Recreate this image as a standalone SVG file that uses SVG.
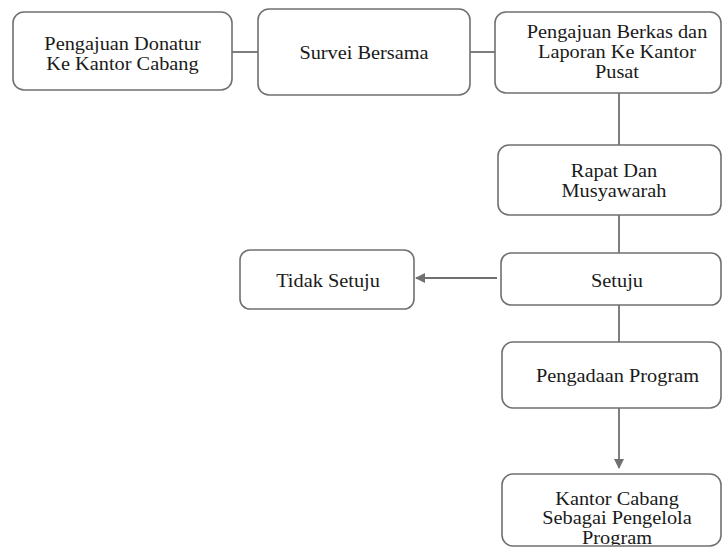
<svg xmlns="http://www.w3.org/2000/svg" width="723" height="548" viewBox="0 0 723 548">
<style>
.box{fill:#fff;stroke:#707070;stroke-width:1.6}
.ln{stroke:#707070;stroke-width:1.8;fill:none}
.t{font-family:'Liberation Serif','DejaVu Serif',serif;font-size:18px;fill:#1a1a1a;text-anchor:middle}
</style>
<defs>
<marker id="ah" viewBox="0 0 10 10" refX="9" refY="5" markerWidth="10" markerHeight="10" markerUnits="userSpaceOnUse" orient="auto"><path d="M0,0 L10,5 L0,10 Z" fill="#707070"/></marker>
<clipPath id="c7"><rect x="502" y="474" width="219" height="71"/></clipPath>
</defs>
<rect width="723" height="548" fill="#fff"/>
<g id="connectors">
<line class="ln" x1="232" y1="52" x2="258" y2="52"/>
<line class="ln" x1="470" y1="52" x2="495" y2="52"/>
<line class="ln" x1="619" y1="93" x2="619" y2="145"/>
<line class="ln" x1="619" y1="215" x2="619" y2="253"/>
<line class="ln" x1="619" y1="305" x2="619" y2="342"/>
<line class="ln" x1="497" y1="278" x2="416" y2="278" marker-end="url(#ah)"/>
<line class="ln" x1="619" y1="408" x2="619" y2="468" marker-end="url(#ah)"/>
</g>
<g font-family="Liberation Serif, serif">
<g id="n1"><rect class="box" x="13" y="12" width="219" height="78" rx="11"/>
<text class="t" transform="matrix(1.13 0 0 1 122.5 50)">Pengajuan Donatur</text>
<text class="t" transform="matrix(1.13 0 0 1 122.5 70)">Ke Kantor Cabang</text></g>
<g id="n2"><rect class="box" x="258" y="9" width="212" height="86" rx="11"/>
<text class="t" transform="matrix(1.13 0 0 1 364 59)">Survei Bersama</text></g>
<g id="n3"><rect class="box" x="495" y="12" width="226" height="81" rx="11"/>
<text class="t" transform="matrix(1.13 0 0 1 617 38)">Pengajuan Berkas dan</text>
<text class="t" transform="matrix(1.13 0 0 1 617 58)">Laporan Ke Kantor</text>
<text class="t" transform="matrix(1.13 0 0 1 617 78)">Pusat</text></g>
<g id="n4"><rect class="box" x="498" y="145" width="223" height="70" rx="11"/>
<text class="t" transform="matrix(1.13 0 0 1 614 177)">Rapat Dan</text>
<text class="t" transform="matrix(1.13 0 0 1 614 197)">Musyawarah</text></g>
<g id="n5"><rect class="box" x="501" y="253" width="220" height="52" rx="10"/>
<text class="t" transform="matrix(1.13 0 0 1 617 287)">Setuju</text></g>
<g id="n6"><rect class="box" x="240" y="250" width="174" height="59" rx="10"/>
<text class="t" transform="matrix(1.13 0 0 1 328 287)">Tidak Setuju</text></g>
<g id="n7"><rect class="box" x="502" y="342" width="219" height="66" rx="11"/>
<text class="t" transform="matrix(1.13 0 0 1 617.5 382)">Pengadaan Program</text></g>
<g id="n8"><rect class="box" x="502" y="474" width="219" height="72" rx="11"/>
<g clip-path="url(#c7)">
<text class="t" transform="matrix(1.13 0 0 1 617 505)">Kantor Cabang</text>
<text class="t" transform="matrix(1.13 0 0 1 617 524)">Sebagai Pengelola</text>
<text class="t" transform="matrix(1.13 0 0 1 617 544)">Program</text></g></g>
</g>
</svg>
